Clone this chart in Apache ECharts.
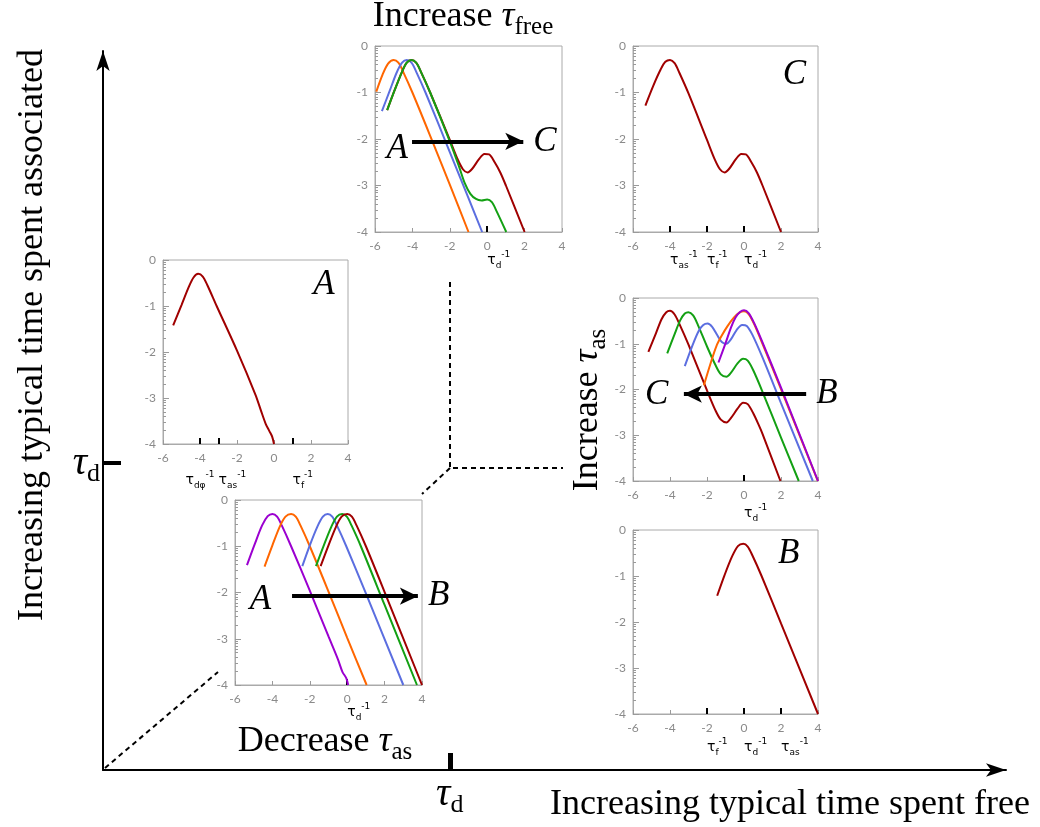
<!DOCTYPE html>
<html><head><meta charset="utf-8">
<script src="https://cdn.jsdelivr.net/npm/echarts@6/dist/echarts.min.js"></script>
<style>html,body{margin:0;padding:0;background:#fff}#c{width:1040px;height:827px}</style>
</head><body><div id="c"></div>
<script>
// ---------------- DATA ----------------
// log-style minor tick positions on the y axes
const yMinorTicks = [-0.699,-0.523,-0.398,-0.301,-0.222,-0.155,-0.097,-0.046,
  -1.699,-1.523,-1.398,-1.301,-1.222,-1.155,-1.097,-1.046,
  -2.699,-2.523,-2.398,-2.301,-2.222,-2.155,-2.097,-2.046,
  -3.699,-3.523,-3.398,-3.301,-3.222,-3.155,-3.097,-3.046];

// Panel "Increase tau_free"
const incFreeOrange = [[-5.93,-0.98],[-5.6,-0.62],[-5.3,-0.38],[-5.0,-0.3],[-4.75,-0.36],[-4.5,-0.55],[-4.0,-1.0],[-3.0,-1.98],[-2.0,-2.98],[-1.0,-4.0]];
const incFreeBlue = [[-5.63,-1.4],[-5.2,-0.95],[-4.85,-0.58],[-4.55,-0.36],[-4.3,-0.3],[-4.05,-0.36],[-3.8,-0.55],[-3.3,-1.0],[-2.0,-2.28],[-1.0,-3.27],[-0.27,-4.0]];
const incFreeRed = [[-5.35,-1.38],[-4.95,-0.95],[-4.55,-0.55],[-4.3,-0.36],[-4.05,-0.3],[-3.8,-0.36],[-3.55,-0.55],[-3.05,-1.0],[-2.0,-2.02],[-1.6,-2.42],[-1.3,-2.65],[-1.05,-2.72],[-0.8,-2.64],[-0.45,-2.44],[-0.15,-2.32],[0.1,-2.33],[0.4,-2.5],[0.7,-2.72],[1.0,-3.0],[2.0,-4.0]];
const incFreeGreen = [[-5.35,-1.38],[-4.95,-0.95],[-4.55,-0.55],[-4.3,-0.36],[-4.05,-0.3],[-3.8,-0.36],[-3.55,-0.55],[-3.05,-1.0],[-2.0,-2.05],[-1.5,-2.6],[-1.2,-2.95],[-0.9,-3.18],[-0.6,-3.29],[-0.3,-3.32],[0.0,-3.3],[0.25,-3.36],[0.5,-3.55],[1.02,-4.0]];
const incFreeTau = [[0,'d']];

// Panel C
const cRed = [[-5.33,-1.28],[-4.9,-0.85],[-4.5,-0.5],[-4.25,-0.34],[-4.0,-0.3],[-3.75,-0.37],[-3.5,-0.57],[-3.0,-1.02],[-2.0,-2.02],[-1.6,-2.42],[-1.3,-2.65],[-1.05,-2.72],[-0.8,-2.64],[-0.45,-2.44],[-0.15,-2.32],[0.1,-2.33],[0.4,-2.5],[0.7,-2.72],[1.0,-3.0],[2.0,-4.0]];
const cTau = [[-4,'as'],[-2,'f'],[0,'d']];

// Panel A
const aRed = [[-5.45,-1.42],[-5.0,-0.98],[-4.6,-0.58],[-4.35,-0.38],[-4.1,-0.3],[-3.85,-0.36],[-3.6,-0.55],[-3.1,-1.0],[-2.0,-1.97],[-1.0,-2.93],[-0.7,-3.28],[-0.45,-3.56],[-0.25,-3.72],[-0.1,-3.84],[0.0,-4.0]];
const aTau = [[-3,'as'],[1,'f']];
const aTauCentered = [[-4,'dφ']];

// Panel "Increase tau_as"
const incAsRed = [[-5.17,-1.18],[-4.75,-0.76],[-4.45,-0.46],[-4.2,-0.31],[-4.0,-0.28],[-3.75,-0.36],[-3.5,-0.56],[-3.0,-1.02],[-2.0,-2.02],[-1.55,-2.45],[-1.25,-2.66],[-0.95,-2.72],[-0.7,-2.62],[-0.35,-2.42],[-0.05,-2.29],[0.2,-2.32],[0.5,-2.52],[0.8,-2.78],[1.0,-2.97],[1.97,-4.0]];
const incAsGreen = [[-4.15,-1.21],[-3.75,-0.79],[-3.45,-0.49],[-3.2,-0.34],[-3.0,-0.31],[-2.75,-0.38],[-2.5,-0.58],[-2.0,-1.06],[-1.55,-1.46],[-1.25,-1.67],[-0.95,-1.72],[-0.7,-1.63],[-0.35,-1.43],[-0.05,-1.33],[0.2,-1.37],[0.5,-1.58],[1.0,-2.05],[2.0,-3.05],[2.96,-4.0]];
const incAsBlue = [[-3.2,-1.49],[-2.8,-1.05],[-2.45,-0.72],[-2.2,-0.59],[-1.97,-0.56],[-1.72,-0.63],[-1.45,-0.81],[-1.2,-0.96],[-0.95,-1.0],[-0.7,-0.9],[-0.4,-0.7],[-0.1,-0.59],[0.15,-0.61],[0.45,-0.8],[1.0,-1.3],[2.0,-2.3],[3.72,-4.0]];
const incAsOrange = [[-2.17,-1.91],[-1.8,-1.42],[-1.49,-1.05],[-1.2,-0.82],[-0.9,-0.62],[-0.55,-0.43],[-0.25,-0.32],[0.0,-0.29],[0.25,-0.35],[0.55,-0.57],[1.0,-1.0],[2.0,-1.99],[3.99,-4.0]];
const incAsPurple = [[-1.38,-1.41],[-1.0,-0.99],[-0.7,-0.64],[-0.45,-0.42],[-0.2,-0.3],[0.0,-0.27],[0.25,-0.33],[0.55,-0.55],[1.0,-0.97],[2.0,-1.96],[4.0,-4.0]];
const incAsTau = [[0,'d']];

// Panel "Decrease tau_as"
const decAsPurple = [[-5.36,-1.41],[-4.95,-0.96],[-4.55,-0.55],[-4.25,-0.35],[-4.0,-0.3],[-3.75,-0.36],[-3.5,-0.55],[-3.0,-1.0],[-2.0,-1.96],[-1.0,-2.95],[-0.5,-3.44],[-0.25,-3.72],[-0.05,-3.85],[0.05,-4.0]];
const decAsOrange = [[-4.42,-1.44],[-4.0,-0.98],[-3.6,-0.57],[-3.3,-0.36],[-3.0,-0.3],[-2.75,-0.36],[-2.5,-0.55],[-2.0,-1.0],[-1.0,-1.98],[0.0,-2.98],[1.04,-4.0]];
const decAsBlue = [[-2.4,-1.43],[-2.0,-0.98],[-1.6,-0.58],[-1.3,-0.36],[-1.04,-0.3],[-0.8,-0.36],[-0.55,-0.55],[-0.05,-1.0],[1.0,-2.02],[3.0,-4.0]];
const decAsGreen = [[-1.67,-1.43],[-1.25,-0.98],[-0.85,-0.58],[-0.55,-0.36],[-0.27,-0.3],[-0.02,-0.36],[0.23,-0.55],[0.73,-1.0],[2.0,-2.27],[3.73,-4.0]];
const decAsRed = [[-1.42,-1.43],[-1.0,-0.98],[-0.6,-0.58],[-0.3,-0.36],[0.0,-0.3],[0.25,-0.36],[0.5,-0.55],[1.0,-1.0],[2.0,-1.99],[4.0,-4.0]];
const decAsTau = [[0,'d']];

// Panel B
const bRed = [[-1.45,-1.43],[-1.05,-0.98],[-0.65,-0.58],[-0.33,-0.35],[-0.04,-0.3],[0.2,-0.36],[0.45,-0.55],[0.95,-1.0],[2.0,-2.03],[4.0,-4.0]];
const bTau = [[-2,'f'],[0,'d'],[2,'as']];

// main (schematic) axes: position of the tau_d marks, in percent of axis length
const mainTauX = 38.4;
const mainTauY = 42.7;

// ---------------- STYLE / LAYOUT ----------------
const COL = {red:'#a00000', orange:'#ff6600', blue:'#5b6ee0', green:'#13a013', purple:'#9b00d0'};
const FRAME = '#aaaaaa', TICKC = '#9a9a9a', LABC = '#8a8a8a';
const SERIF = 'Liberation Serif';
const letterLabel = {show:true, fontSize:35, fontFamily:SERIF, fontStyle:'italic', color:'#000'};

const panels = [
  {grid:{left:375,top:46,width:187,height:186}, tau:incFreeTau, tauMargin:18,
   lines:[['orange',incFreeOrange],['blue',incFreeBlue],['red',incFreeRed],['green',incFreeGreen]],
   points:[{coord:[-4.82,-2.2], text:'A'}],
   arrow:{from:[-4.02,-2.05], to:[1.93,-2.05], text:'C', pos:'end'}},
  {grid:{left:633,top:46,width:185,height:186}, tau:cTau, tauMargin:18,
   lines:[['red',cRed]], points:[{coord:[2.73,-0.63], text:'C'}]},
  {grid:{left:163,top:260,width:185,height:184}, tau:aTau, tauC:aTauCentered, tauMargin:26,
   lines:[['red',aRed]], points:[{coord:[2.7,-0.54], text:'A'}]},
  {grid:{left:633,top:298,width:185,height:183}, tau:incAsTau, tauMargin:22,
   lines:[['red',incAsRed],['green',incAsGreen],['blue',incAsBlue],['orange',incAsOrange],['purple',incAsPurple]],
   points:[{coord:[-4.72,-2.12], text:'C'}],
   arrow:{from:[3.36,-2.1], to:[-3.25,-2.1], text:'B', pos:'start'}},
  {grid:{left:235,top:500,width:187,height:185}, tau:decAsTau, tauMargin:17,
   lines:[['purple',decAsPurple],['orange',decAsOrange],['blue',decAsBlue],['green',decAsGreen],['red',decAsRed]],
   points:[{coord:[-4.64,-2.16], text:'A'}],
   arrow:{from:[-2.95,-2.08], to:[3.78,-2.08], text:'B', pos:'end'}},
  {grid:{left:633,top:530,width:185,height:184}, tau:bTau, tauMargin:23,
   lines:[['red',bRed]], points:[{coord:[2.42,-0.51], text:'B'}]}
];

const tauRich = {
  t:{fontSize:14, fontFamily:'DejaVu Sans', color:'#000', lineHeight:20},
  sb:{fontSize:9, fontFamily:'DejaVu Sans', color:'#000', verticalAlign:'bottom'},
  sp:{fontSize:9, fontFamily:'DejaVu Sans', color:'#000', verticalAlign:'top'}
};
function tauAxis(gi, list, margin, align) {
  const vals = list.map(d => d[0]);
  return {gridIndex:gi, type:'value', min:-6, max:4, position:'bottom',
    axisLine:{show:false, onZero:false},
    axisTick:{show:true, inside:true, length:6, customValues:vals, lineStyle:{color:'#000', width:2}},
    axisLabel:{show:true, customValues:vals, margin:margin, align:align, rich:tauRich,
      formatter:function(v){ const f = list.find(d => Math.abs(d[0]-v) < 1e-6); return f ? '{t|τ}{sb|'+f[1]+'}{sp|-1}' : ''; }},
    splitLine:{show:false}};
}

const grids = [], xAxes = [], yAxes = [], series = [];
panels.forEach(function(p, gi){
  grids.push(Object.assign({show:true, borderColor:FRAME, borderWidth:1, backgroundColor:'transparent', outerBoundsMode:'none'}, p.grid));
  xAxes.push({gridIndex:gi, type:'value', min:-6, max:4, interval:2, position:'bottom',
    axisLine:{show:true, onZero:false, lineStyle:{color:FRAME}},
    axisTick:{show:true, inside:true, length:4, lineStyle:{color:TICKC}},
    axisLabel:{color:LABC, fontSize:12, fontFamily:'Lato', margin:8},
    splitLine:{show:false}});
  const xi = xAxes.length - 1;
  xAxes.push(tauAxis(gi, p.tau, p.tauMargin, 'left'));
  if (p.tauC) xAxes.push(tauAxis(gi, p.tauC, p.tauMargin, 'center'));
  yAxes.push({gridIndex:gi, type:'value', min:-4, max:0, interval:1, position:'left',
    axisLine:{show:true, onZero:false, lineStyle:{color:FRAME}},
    axisTick:{show:true, inside:true, length:6, lineStyle:{color:TICKC}},
    axisLabel:{color:LABC, fontSize:12, fontFamily:'Lato', margin:7},
    splitLine:{show:false}});
  const yi = yAxes.length - 1;
  yAxes.push({gridIndex:gi, type:'value', min:-4, max:0, position:'left',
    axisLine:{show:false, onZero:false},
    axisTick:{show:true, inside:true, length:3, customValues:yMinorTicks, lineStyle:{color:TICKC}},
    axisLabel:{show:false}, splitLine:{show:false}});
  p.lines.forEach(function(l, k){
    const s = {type:'line', xAxisIndex:xi, yAxisIndex:yi, data:l[1], smooth:0.3, showSymbol:false, symbol:'none',
      lineStyle:{width:2, color:COL[l[0]]}, itemStyle:{color:COL[l[0]]}, silent:true, clip:false, z:2};
    if (k === p.lines.length - 1) {
      s.markPoint = {symbol:'circle', symbolSize:0, silent:true, itemStyle:{color:'rgba(0,0,0,0)'},
        label:Object.assign({position:'inside'}, letterLabel),
        data:p.points.map(pt => ({coord:pt.coord, label:{formatter:pt.text}}))};
      if (p.arrow) {
        s.markLine = {silent:true, symbol:['none','arrow'], symbolSize:[13,18],
          lineStyle:{color:'#000', width:4, type:'solid'},
          label:Object.assign({position:p.arrow.pos, formatter:p.arrow.text, distance:10}, letterLabel),
          emphasis:{disabled:true},
          data:[[{coord:p.arrow.from},{coord:p.arrow.to}]]};
      }
    }
    series.push(s);
  });
});

// main schematic axes
const mg = grids.length;
grids.push({left:103, top:51, width:903, height:719, show:false, outerBoundsMode:'none'});
const bigRich = {
  t:{fontSize:40, fontFamily:SERIF, fontStyle:'italic', color:'#000', lineHeight:48},
  s:{fontSize:26, fontFamily:SERIF, color:'#000', verticalAlign:'bottom'}
};
xAxes.push({gridIndex:mg, type:'value', min:0, max:100, position:'bottom',
  axisLine:{show:true, onZero:false, symbol:['none','arrow'], symbolSize:[10,20], lineStyle:{color:'#000', width:2}},
  axisTick:{show:true, inside:true, length:17, customValues:[mainTauX], lineStyle:{color:'#000', width:5}},
  axisLabel:{show:true, customValues:[mainTauX], margin:0, rich:bigRich, formatter:() => '{t|τ}{s|d}'},
  splitLine:{show:false}});
yAxes.push({gridIndex:mg, type:'value', min:0, max:100, position:'left',
  axisLine:{show:true, onZero:false, symbol:['none','arrow'], symbolSize:[10,20], lineStyle:{color:'#000', width:2}},
  axisTick:{show:true, inside:true, length:18, customValues:[mainTauY], lineStyle:{color:'#000', width:4}},
  axisLabel:{show:true, customValues:[mainTauY], margin:3, rich:bigRich, formatter:() => '{t|τ}{s|d}'},
  splitLine:{show:false}});

// text styles
const txtRich = {
  n:{fontSize:36, fontFamily:SERIF, color:'#000', lineHeight:46},
  t:{fontSize:36, fontFamily:SERIF, fontStyle:'italic', color:'#000', lineHeight:46},
  s:{fontSize:25, fontFamily:SERIF, color:'#000', verticalAlign:'bottom'}
};
function label(x, y, text, rot) {
  return {type:'text', x:x, y:y, rotation:rot || 0, silent:true, z:10,
    style:{text:text, rich:txtRich, align:'center', verticalAlign:'middle'}};
}
const dash = {stroke:'#000', lineWidth:2, lineDash:[5,4], fill:null};
const graphics = [
  {type:'polyline', silent:true, shape:{points:[[450,282],[450,468],[563,468]]}, style:dash},
  {type:'line', silent:true, shape:{x1:450, y1:468, x2:422, y2:494}, style:dash},
  {type:'line', silent:true, shape:{x1:105, y1:768, x2:218, y2:672}, style:dash},
  label(463, 17, '{n|Increase }{t|τ}{s|free}'),
  label(325, 742, '{n|Decrease }{t|τ}{s|as}'),
  label(588, 410, '{n|Increase }{t|τ}{s|as}', Math.PI/2),
  label(33, 335, '{n|Increasing typical time spent associated}', Math.PI/2),
  label(790, 805, '{n|Increasing typical time spent free}')
];

const chart = echarts.init(document.getElementById('c'));
chart.setOption({
  animation:false,
  backgroundColor:'#fff',
  grid:grids, xAxis:xAxes, yAxis:yAxes, series:series, graphic:graphics
});
</script></body></html>
